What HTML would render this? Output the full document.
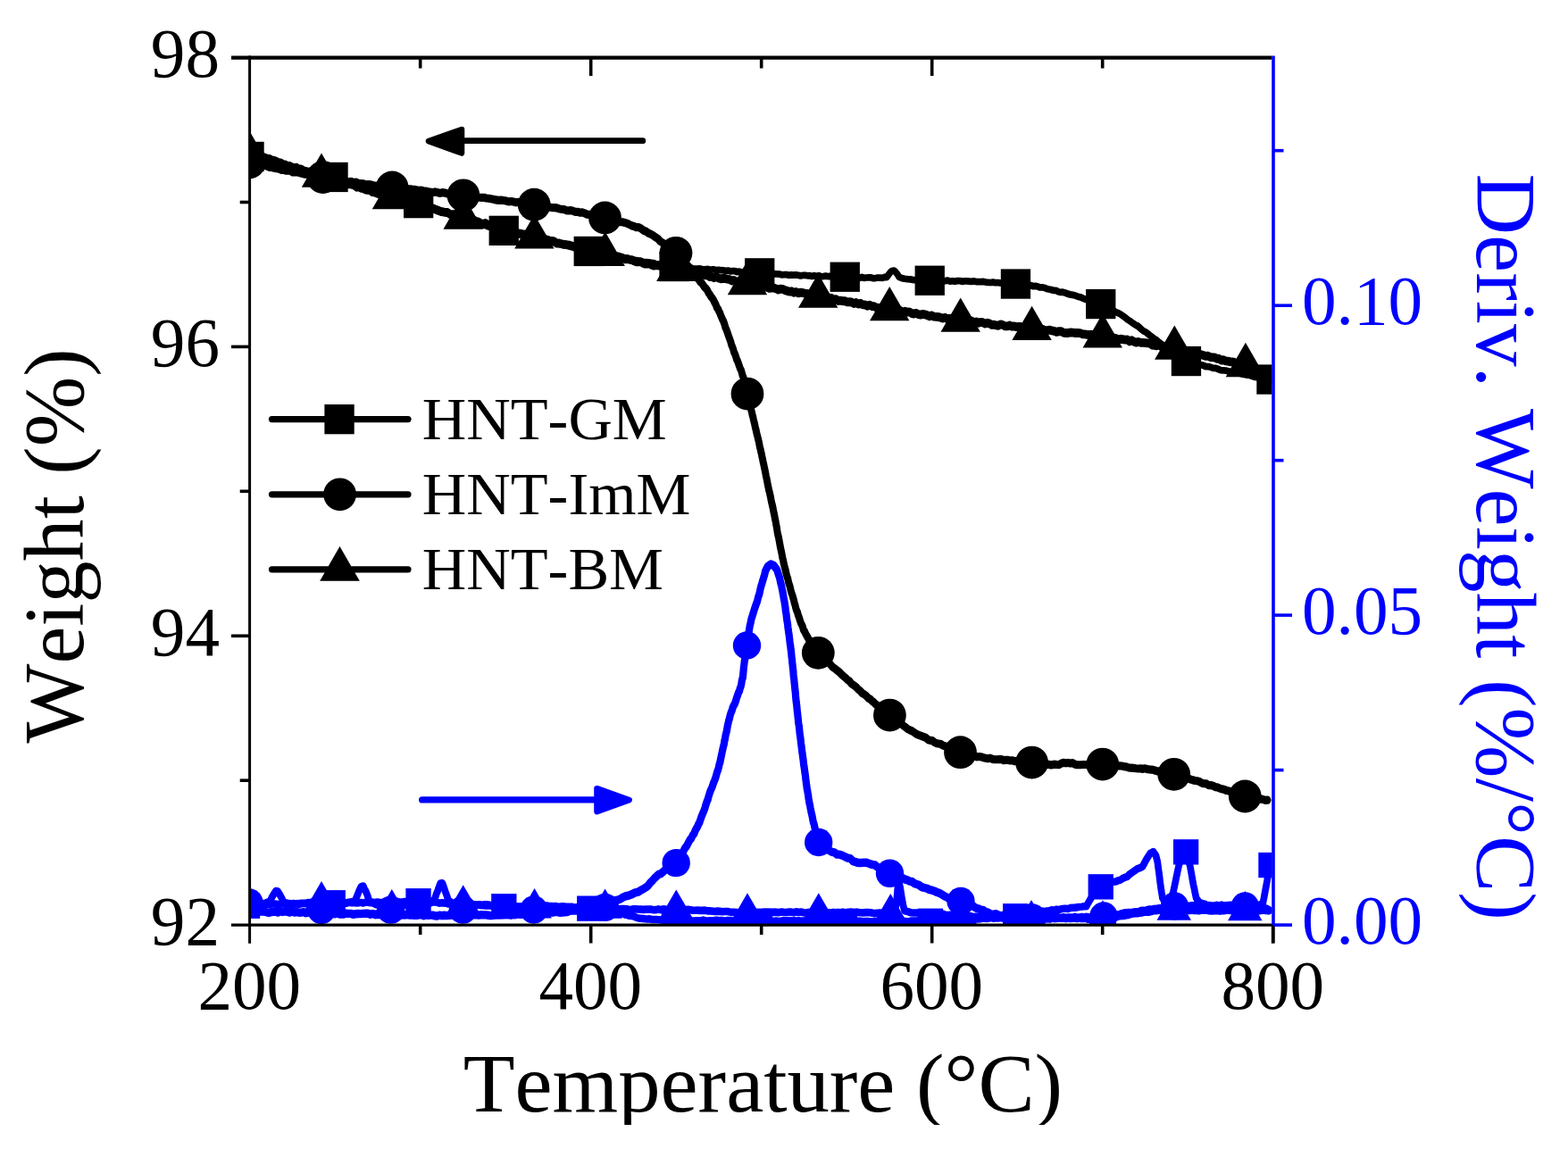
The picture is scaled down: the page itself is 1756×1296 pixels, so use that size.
<!DOCTYPE html>
<html lang="en"><head><meta charset="utf-8"><title>TGA / DTG curves</title>
<style>
html,body{margin:0;padding:0;background:#fff;}
body{width:1756px;height:1296px;overflow:hidden;}
svg{display:block;}
.t{font-family:"Liberation Serif",serif;font-kerning:none;font-feature-settings:"kern" 0,"liga" 0;}
</style></head><body>
<svg width="1756" height="1296" viewBox="0 0 1756 1296">
<defs><clipPath id="pc"><rect x="279.6" y="64" width="1144.8" height="972.2"/></clipPath></defs>
<rect x="0" y="0" width="1756" height="1296" fill="#ffffff"/>
<g clip-path="url(#pc)">
<polyline transform="scale(1,1.1)" points="279.0,921.7 281.6,921.4 284.2,921.7 286.9,921.1 289.5,921.4 292.1,921.1 294.8,920.7 297.4,921.0 300.0,920.5 302.5,920.8 305.0,920.5 307.5,920.5 310.0,920.7 312.5,921.1 315.0,920.4 317.5,920.5 320.0,920.8 322.5,921.1 325.0,920.7 327.5,920.5 330.0,921.0 332.5,920.1 335.0,920.8 337.5,920.3 340.0,920.1 342.5,920.0 345.1,920.1 347.6,920.5 350.2,919.8 352.7,920.1 355.2,920.0 357.8,919.7 360.3,919.8 362.8,919.2 365.4,919.1 367.9,919.2 370.5,919.5 373.0,919.2 375.6,919.1 378.2,919.3 380.8,919.2 383.4,919.1 386.1,919.5 388.7,919.4 391.3,919.0 393.9,919.3 396.5,919.2 399.1,919.5 401.7,919.4 404.3,919.0 406.9,919.6 409.6,918.8 412.2,919.0 414.8,919.3 417.4,918.8 420.0,919.1 422.6,918.6 425.1,919.1 427.7,919.1 430.2,918.9 432.8,919.1 435.3,918.5 437.9,918.8 440.4,918.6 443.0,918.5 445.5,918.3 448.1,918.6 450.6,918.6 453.2,918.1 455.7,918.2 458.3,917.6 460.8,918.1 463.4,918.0 465.9,918.2 468.5,918.0 471.1,917.7 473.8,918.0 476.4,918.4 479.0,918.1 481.6,918.6 484.2,918.6 486.9,918.7 489.5,918.8 492.1,919.7 494.8,919.3 497.4,919.6 500.0,919.9 502.5,920.5 505.0,919.9 507.5,920.4 510.0,920.7 512.5,921.1 515.0,921.2 517.5,921.4 520.0,921.0 522.5,921.3 525.0,921.4 527.5,922.0 530.0,922.2 532.6,921.6 535.3,921.7 537.9,921.8 540.6,921.9 543.2,922.2 545.9,922.4 548.5,922.2 551.2,922.0 553.8,922.5 556.5,922.5 559.1,922.8 561.8,923.2 564.4,923.1 566.9,922.9 569.5,923.0 572.0,923.0 574.5,922.5 577.1,923.2 579.6,923.1 582.1,923.2 584.7,923.1 587.2,922.7 589.7,922.7 592.3,922.4 594.8,922.9 597.3,922.4 599.9,922.4 602.4,922.5 604.9,922.4 607.5,922.6 610.0,922.3 612.5,922.3 615.0,922.6 617.5,922.6 620.0,922.9 622.5,922.7 625.0,923.5 627.5,923.4 630.0,923.0 632.5,923.2 635.0,923.3 637.5,923.4 640.0,923.3 642.5,924.1 645.0,924.4 647.6,924.2 650.1,924.3 652.6,924.2 655.2,924.4 657.7,924.8 660.2,924.9 662.7,925.7 665.2,925.4 667.7,925.7 670.1,926.8 672.6,926.8 675.1,926.8 677.6,927.5 680.1,927.3 682.5,928.1 685.0,928.9 687.5,929.1 690.0,929.3 692.5,929.4 695.0,930.1 697.5,930.4 700.0,931.5 702.5,931.8 705.0,932.6 707.5,932.8 710.0,933.2 712.5,934.3 715.0,935.0 717.5,935.2 720.0,935.4 722.5,935.7 725.0,935.9 727.5,935.7 730.0,936.3 732.5,936.4 735.0,936.4 737.5,936.5 740.0,936.8 742.5,936.9 745.0,937.4 747.5,937.8 750.0,937.5 752.5,938.0 755.0,938.2 757.5,938.1 760.0,937.5 762.5,937.4 765.0,937.3 767.5,937.3 770.0,937.3 772.5,937.6 775.0,937.8 777.5,937.7 780.0,937.4 782.5,937.5 785.0,937.6 787.5,936.9 790.0,937.4 792.5,937.6 795.0,937.5 797.5,937.5 800.0,937.3 802.5,937.0 805.0,937.5 807.5,937.1 810.0,937.5 812.5,937.7 815.0,937.2 817.5,937.2 820.0,937.7 822.6,937.5 825.2,937.0 827.8,937.0 830.3,937.1 832.9,937.8 835.5,937.8 838.1,937.2 840.7,937.9 843.2,938.1 845.8,937.8 848.4,937.6 851.0,937.8 853.6,937.4 856.2,937.3 858.7,938.2 861.3,937.9 863.9,937.8 866.5,938.1 869.1,937.7 871.6,938.1 874.2,938.0 876.8,937.5 879.4,937.5 881.9,937.5 884.5,937.5 887.1,937.8 889.7,937.5 892.3,937.7 894.8,937.4 897.4,938.1 900.0,937.6 902.6,937.7 905.1,937.9 907.7,938.2 910.2,937.8 912.8,938.2 915.3,937.9 917.9,937.9 920.4,938.0 923.0,937.5 925.6,937.9 928.1,937.7 930.7,937.6 933.2,938.3 935.8,937.8 938.3,938.1 940.9,938.3 943.4,938.2 946.0,938.0 948.6,938.2 951.1,938.2 953.7,938.4 956.3,937.8 958.9,938.2 961.4,938.0 964.0,938.0 966.6,938.4 969.1,938.2 971.7,938.2 974.3,938.4 976.9,938.6 979.4,938.1 982.0,938.3 984.6,938.2 987.1,938.2 989.7,938.4 992.3,938.1 994.9,938.2 997.4,938.2 1000.0,938.6 1002.6,938.3 1005.2,938.5 1007.9,938.5 1010.5,937.8 1013.1,938.1 1015.8,938.4 1018.4,938.3 1021.0,937.6 1023.6,937.6 1026.2,937.8 1028.9,937.5 1031.5,937.6 1034.1,937.4 1036.8,937.9 1039.4,938.0 1042.0,938.1 1044.5,937.3 1047.1,937.8 1049.6,937.7 1052.1,937.1 1054.6,937.7 1057.2,937.7 1059.7,937.0 1062.2,937.6 1064.7,937.0 1067.3,937.0 1069.8,937.4 1072.3,937.2 1074.8,936.5 1077.4,936.7 1079.9,936.7 1082.4,936.4 1084.9,936.2 1087.5,936.3 1090.0,936.6 1092.5,935.7 1095.0,936.0 1097.5,935.8 1100.0,935.2 1102.5,935.3 1105.0,935.4 1107.5,935.1 1110.0,934.5 1112.5,935.2 1115.0,934.8 1117.8,934.8 1120.6,933.8 1123.3,933.8 1126.1,933.4 1128.9,933.8 1131.7,933.2 1134.5,932.9 1137.2,932.9 1139.8,932.9 1142.3,932.4 1144.8,931.5 1147.4,930.9 1149.9,931.2 1152.4,930.5 1154.9,930.1 1157.5,929.2 1160.0,928.7 1162.5,929.0 1165.0,928.4 1167.5,927.8 1170.0,928.3 1172.5,927.7 1175.0,927.5 1177.7,926.6 1180.4,927.0 1183.0,926.0 1185.7,926.4 1188.4,925.7 1191.0,925.3 1193.6,925.3 1196.1,925.4 1198.7,924.6 1201.3,924.2 1203.8,924.3 1206.4,923.9 1208.9,923.5 1211.5,923.3 1214.0,923.0 1216.6,922.9 1218.0,920.6 1219.5,918.2 1220.9,916.1 1222.6,913.4 1224.3,911.4 1226.0,908.8 1228.3,907.0 1230.5,904.7 1232.8,902.9 1235.5,901.6 1238.3,901.3 1241.0,900.1 1243.8,898.7 1246.5,898.0 1249.4,897.8 1252.3,896.6 1254.8,896.0 1257.4,894.5 1260.0,893.4 1262.5,892.6 1264.6,890.6 1266.8,889.2 1268.9,887.8 1271.0,886.5 1273.9,884.6 1276.7,883.8 1279.6,882.4 1281.0,880.0 1282.5,877.4 1283.9,875.0 1286.0,872.0 1288.0,869.2 1291.6,867.3 1294.5,871.1 1295.0,873.0 1295.6,875.1 1296.2,877.3 1296.7,880.3 1297.0,882.6 1297.3,884.8 1297.6,886.7 1298.0,889.0 1298.3,891.3 1298.6,893.8 1298.9,895.8 1299.2,898.4 1299.6,900.8 1300.1,904.1 1300.5,906.7 1300.9,908.9 1301.4,911.2 1301.8,914.4 1302.9,915.9 1304.1,918.1 1305.2,919.8 1308.1,918.2 1311.0,916.3 1312.0,913.7 1313.0,910.8 1314.0,908.4 1314.6,905.3 1315.2,903.0 1315.8,900.2 1316.4,897.9 1317.0,895.0 1317.5,892.6 1318.1,890.4 1318.6,887.9 1319.1,885.8 1319.7,883.4 1320.2,881.1 1321.2,878.6 1322.1,876.1 1323.0,873.8 1324.0,870.8 1326.1,869.1 1328.2,868.1 1328.9,869.5 1329.7,872.3 1330.4,874.4 1331.1,876.1 1331.9,879.0 1332.6,881.3 1333.1,883.5 1333.6,886.1 1334.1,888.7 1334.5,890.6 1335.0,893.5 1335.5,896.0 1336.0,898.8 1336.5,901.1 1337.1,903.4 1337.6,905.5 1338.1,908.2 1338.6,910.3 1339.2,912.7 1339.7,914.6 1341.3,916.5 1343.0,918.8 1346.0,919.9 1349.0,920.5 1352.0,922.1 1354.6,922.3 1357.2,922.8 1359.8,923.3 1362.4,923.8 1365.0,924.1 1367.5,923.6 1370.0,924.2 1372.5,924.1 1375.0,923.8 1377.5,923.7 1380.0,923.8 1382.5,923.2 1385.0,923.9 1387.5,923.4 1390.0,923.2 1392.5,923.4 1395.0,923.8 1397.5,923.4 1400.0,923.9 1402.5,923.6 1405.0,922.7 1407.5,922.2 1410.0,921.8 1414.3,919.9 1414.8,917.5 1415.4,914.9 1415.9,912.4 1416.5,909.4 1417.0,907.0 1417.5,904.4 1418.0,902.1 1418.6,899.1 1419.1,896.6 1419.6,893.5 1420.4,890.9 1421.2,888.5 1421.9,886.3 1422.7,883.7 1423.5,881.1 1424.6,878.2 1425.8,875.9 1426.9,873.4 1428.0,870.9" fill="none" stroke="#0000ff" stroke-width="7.7" stroke-linejoin="round" stroke-linecap="round"/>
<rect x="262.9" y="1000.6" width="28.3" height="28.3" fill="#0000ff"/>
<rect x="358.6" y="997.1" width="28.3" height="28.3" fill="#0000ff"/>
<rect x="454.4" y="995.1" width="28.3" height="28.3" fill="#0000ff"/>
<rect x="550.2" y="1001.1" width="28.3" height="28.3" fill="#0000ff"/>
<rect x="646.1" y="1003.5" width="28.3" height="28.3" fill="#0000ff"/>
<rect x="740.9" y="1017.4" width="28.3" height="28.3" fill="#0000ff"/>
<rect x="836.9" y="1017.6" width="28.3" height="28.3" fill="#0000ff"/>
<rect x="931.9" y="1017.9" width="28.3" height="28.3" fill="#0000ff"/>
<rect x="1027.8" y="1017.6" width="28.3" height="28.3" fill="#0000ff"/>
<rect x="1123.1" y="1012.1" width="28.3" height="28.3" fill="#0000ff"/>
<rect x="1218.6" y="979.2" width="28.3" height="28.3" fill="#0000ff"/>
<rect x="1314.0" y="940.2" width="28.3" height="28.3" fill="#0000ff"/>
<rect x="1409.3" y="954.9" width="28.3" height="28.3" fill="#0000ff"/>
<polyline transform="scale(1,1.15)" points="279.0,881.3 283.0,884.0 285.7,884.3 288.3,886.4 291.0,887.5 293.6,886.7 296.1,887.7 298.7,888.5 301.2,889.0 303.8,888.3 306.2,888.0 308.8,887.9 311.2,888.7 313.8,887.7 316.5,888.2 319.2,887.7 321.9,888.2 324.6,888.7 327.3,887.8 330.0,888.7 332.5,888.4 335.0,888.9 337.5,888.8 340.0,888.4 342.5,889.3 345.0,888.9 347.5,888.4 350.0,888.5 352.5,889.2 355.0,889.2 357.5,889.1 360.0,889.0 362.5,889.3 365.0,889.3 367.5,890.1 370.0,889.1 372.5,890.1 375.0,890.2 377.5,889.4 380.0,890.4 382.5,890.2 385.0,890.4 387.5,889.7 390.0,889.9 392.8,889.9 395.6,890.7 398.3,890.2 401.1,890.0 403.9,890.1 406.7,889.9 409.4,889.7 412.1,889.8 414.8,890.7 417.5,890.0 420.2,890.8 422.9,890.0 425.6,890.1 428.3,890.4 430.8,890.0 433.3,890.3 435.8,891.1 438.3,891.0 440.8,891.0 443.3,890.8 445.8,891.2 448.3,891.3 450.9,890.9 453.6,891.2 456.2,890.5 458.9,891.4 461.5,891.1 464.1,891.6 466.8,891.5 469.4,891.2 471.9,890.9 474.4,892.0 477.0,891.1 479.5,891.5 482.0,891.4 484.5,891.4 487.0,892.0 489.5,892.3 492.2,891.4 494.9,891.9 497.6,891.5 500.4,891.8 503.1,891.6 505.8,891.3 508.5,891.3 511.0,891.4 513.5,892.2 516.0,891.7 518.5,891.3 521.0,892.2 523.5,892.3 526.0,891.6 528.5,891.2 531.1,891.2 533.8,891.1 536.4,891.4 539.0,891.0 541.6,891.2 544.2,891.2 546.9,891.5 549.5,891.9 552.0,891.6 554.5,891.2 557.0,891.1 559.5,891.2 562.0,890.9 564.5,890.8 567.0,890.4 569.5,890.6 572.2,891.3 574.9,890.2 577.6,890.5 580.4,890.5 583.1,890.7 585.8,889.8 588.5,889.7 591.0,889.6 593.5,889.7 596.0,889.6 598.5,890.1 601.0,889.9 603.5,889.8 606.0,888.7 608.5,888.6 611.1,889.3 613.8,889.4 616.4,888.8 619.0,888.8 621.6,888.0 624.2,888.3 626.9,888.9 629.5,888.7 632.3,888.5 635.1,888.4 637.9,887.3 640.7,886.9 643.5,886.8 646.2,887.0 648.8,886.8 651.2,886.8 653.8,886.2 656.2,885.7 658.8,885.5 661.9,884.7 665.0,884.3 668.1,883.1 671.2,883.4 674.4,882.1 677.6,882.0 680.9,880.7 684.2,879.0 687.5,877.6 690.1,876.8 692.6,876.4 695.2,875.5 698.0,873.8 700.9,872.8 703.7,872.4 706.3,871.6 708.8,870.5 711.4,869.4 714.8,868.8 718.2,866.9 721.0,865.6 723.8,864.1 725.9,862.5 728.1,859.9 730.4,858.1 732.8,855.6 735.3,853.5 737.8,851.6 740.1,851.1 742.3,849.4 744.6,847.5 746.7,845.9 748.8,845.3 750.9,844.3 753.0,842.8 754.7,841.0 756.5,840.0 758.2,838.7 760.0,836.3 761.3,834.1 762.7,832.5 764.1,830.6 765.5,828.9 766.9,826.3 768.3,824.9 769.8,822.8 771.2,820.4 772.7,817.9 774.2,816.6 775.8,813.6 777.3,812.1 778.5,809.2 779.8,807.0 781.0,805.5 782.3,802.7 783.3,801.3 784.3,798.6 785.3,796.1 786.3,793.9 787.3,791.8 788.3,789.7 789.3,787.6 790.3,784.2 791.1,782.4 791.9,780.1 792.7,779.0 793.5,775.9 794.3,773.7 795.3,771.1 796.3,769.0 797.3,767.1 798.3,764.6 799.3,762.0 800.3,760.0 801.4,757.5 802.4,754.3 803.2,751.8 804.0,750.3 804.8,747.6 805.6,744.4 806.3,742.7 806.9,740.0 807.5,737.6 808.1,735.1 808.7,732.6 809.3,730.1 809.8,728.2 810.4,726.0 810.9,724.5 811.4,721.3 811.9,720.2 812.4,717.1 812.9,715.0 813.5,713.4 814.0,711.2 814.5,708.5 815.1,705.8 815.6,704.1 816.2,701.7 816.8,700.2 817.7,696.7 818.6,694.3 819.6,692.3 820.7,689.0 821.8,687.1 822.9,685.4 824.0,682.7 825.2,679.2 826.3,676.6 827.1,674.5 828.0,673.3 828.8,670.3 829.6,668.8 830.2,666.6 830.7,663.6 831.3,661.2 831.9,659.8 832.2,656.9 832.5,654.1 832.7,652.2 833.0,649.3 833.4,647.0 833.7,644.5 834.0,643.2 834.3,641.1 834.8,638.1 835.3,635.9 835.8,632.1 836.2,629.9 836.6,627.8 837.0,625.9 837.5,623.5 837.8,620.5 838.2,618.1 838.6,616.0 839.0,613.8 839.3,612.0 839.9,608.9 840.4,607.5 840.9,605.3 841.4,603.2 842.5,600.2 843.6,597.1 844.7,593.9 845.8,591.0 847.0,588.1 848.1,585.7 848.8,582.6 849.6,580.4 850.3,578.9 851.1,575.6 851.8,572.8 852.6,570.2 853.3,568.4 854.1,565.7 854.8,564.0 855.6,561.6 856.3,559.5 857.1,556.3 858.5,553.8 859.9,551.5 863.2,549.6 866.6,550.8 868.2,552.7 869.9,554.6 871.0,557.3 872.0,560.1 873.0,562.7 873.6,564.9 874.1,567.2 874.7,569.1 875.2,570.6 875.8,573.6 876.3,575.4 876.8,578.1 877.3,580.3 877.8,583.2 878.3,585.0 878.7,587.3 879.1,589.6 879.5,591.7 879.8,594.9 880.2,596.8 880.6,598.7 880.9,601.2 881.3,604.2 881.7,606.0 882.1,608.0 882.4,611.1 882.8,613.2 883.2,616.1 883.5,617.4 883.9,620.3 884.3,623.2 884.6,625.6 885.0,628.2 885.3,629.5 885.6,632.3 886.0,634.5 886.3,637.0 886.6,640.4 887.0,642.3 887.2,645.2 887.5,646.9 887.8,650.0 888.1,651.9 888.4,654.1 888.6,657.1 888.9,659.8 889.2,661.2 889.5,664.2 889.8,666.7 890.0,668.6 890.3,671.2 890.6,673.4 890.9,675.9 891.1,678.4 891.4,681.3 891.7,683.7 892.0,685.6 892.3,687.8 892.6,690.6 892.9,693.4 893.2,695.2 893.5,697.8 893.8,700.1 894.1,703.2 894.4,705.2 894.8,707.0 895.1,709.5 895.4,712.2 895.7,714.8 896.1,717.1 896.4,718.8 896.7,721.1 897.0,724.0 897.4,726.0 897.7,728.1 898.0,730.3 898.4,733.3 898.7,734.7 899.0,737.2 899.4,739.1 899.7,741.4 900.0,744.1 900.4,746.4 900.7,747.8 901.0,749.8 901.4,752.6 901.7,754.2 902.0,756.1 902.4,759.4 902.7,761.0 903.0,763.7 903.4,765.3 903.7,768.1 904.2,770.0 904.6,772.1 905.1,774.4 905.5,777.5 906.0,780.0 906.5,782.6 907.0,783.9 907.5,786.8 908.0,788.8 908.5,791.2 909.1,793.1 909.7,795.6 910.2,798.2 910.9,801.0 911.5,802.3 912.2,805.1 912.9,807.8 913.6,810.4 914.2,811.8 915.0,814.1 916.4,817.2 917.8,819.4 919.3,820.9 920.7,822.5 922.7,824.9 924.8,825.5 926.8,827.4 928.8,828.4 931.6,829.9 934.5,830.3 937.3,832.3 940.3,832.3 943.4,833.3 946.4,834.6 949.4,835.7 952.4,836.2 955.4,838.9 958.4,839.7 961.4,840.5 964.4,840.4 967.5,840.1 970.5,840.2 974.0,841.4 977.5,842.3 980.0,842.6 982.5,844.5 985.2,846.0 987.9,846.4 990.8,848.5 993.6,848.9 996.2,850.4 998.8,851.3 1001.4,852.4 1003.9,852.8 1006.4,853.8 1008.8,854.8 1011.3,855.5 1013.8,856.7 1016.3,857.3 1018.8,858.3 1021.3,858.7 1023.9,860.4 1026.5,861.3 1029.0,862.0 1031.6,863.7 1033.9,864.5 1036.3,865.0 1038.6,865.5 1041.0,866.7 1043.8,867.1 1046.7,868.0 1049.5,869.2 1052.7,870.1 1055.9,871.8 1058.0,873.1 1060.2,873.8 1062.9,875.5 1065.7,875.7 1069.2,877.0 1072.6,877.6 1075.5,878.1 1078.3,878.3 1081.2,879.7 1083.8,880.4 1086.5,882.1 1089.1,882.0 1091.7,883.8 1094.0,884.8 1096.4,885.3 1098.7,886.3 1101.1,886.4 1103.9,888.3 1106.6,888.8 1109.4,890.3 1112.4,890.7 1115.3,890.2 1118.3,891.4 1121.2,892.0 1124.2,891.4 1126.8,891.9 1129.5,892.6 1132.1,892.0 1134.8,893.1 1137.5,892.5 1140.1,893.3 1142.8,892.7 1145.4,893.3 1148.1,893.9 1150.8,893.1 1153.5,893.2 1156.2,893.6 1158.9,893.4 1161.6,893.2 1164.3,893.4 1167.0,893.5 1169.8,894.4 1172.5,894.1 1175.2,894.4 1178.0,893.5 1180.8,894.3 1183.5,893.4 1186.2,894.0 1189.0,894.1 1191.5,893.7 1194.0,894.3 1196.5,893.9 1199.0,893.9 1201.5,894.2 1204.0,893.3 1206.5,894.3 1209.0,893.9 1211.6,893.5 1214.1,893.9 1216.7,893.2 1219.3,894.0 1221.9,893.5 1224.4,893.2 1227.0,893.6 1229.5,893.0 1232.0,892.5 1234.5,893.0 1237.0,892.0 1239.5,892.7 1242.0,891.8 1244.5,892.1 1247.3,892.2 1250.2,891.3 1253.0,891.1 1255.8,890.3 1258.7,889.5 1261.5,889.2 1264.2,889.0 1266.8,889.3 1269.5,888.7 1272.2,888.5 1274.8,888.6 1277.5,887.4 1280.0,887.2 1282.5,887.4 1285.0,886.4 1287.5,886.1 1290.0,886.2 1292.5,885.6 1295.3,885.5 1298.2,885.0 1301.0,885.0 1303.9,884.7 1306.5,883.8 1309.0,883.8 1311.6,883.2 1314.2,882.7 1316.8,883.5 1319.4,882.5 1322.0,882.2 1324.6,882.0 1327.2,882.6 1329.8,882.9 1332.4,882.8 1335.1,882.3 1337.7,882.1 1340.3,881.7 1342.9,882.5 1345.7,882.4 1348.5,882.1 1351.3,882.5 1354.1,882.2 1356.9,882.8 1359.8,882.6 1362.6,882.0 1365.2,882.8 1367.9,881.8 1370.5,882.4 1373.2,882.3 1375.8,882.1 1378.4,881.9 1381.1,882.8 1383.7,881.9 1386.6,882.7 1389.5,883.4 1392.3,882.6 1395.2,882.8 1398.1,883.4 1401.0,883.5 1403.6,884.0 1406.3,884.6 1409.0,884.1 1411.7,884.6 1414.3,885.0 1417.7,885.1 1421.0,886.6" fill="none" stroke="#0000ff" stroke-width="8.2" stroke-linejoin="round" stroke-linecap="round"/>
<circle cx="279.0" cy="1011.0" r="15.7" fill="#0000ff"/>
<circle cx="360.0" cy="1019.5" r="15.7" fill="#0000ff"/>
<circle cx="437.7" cy="1019.1" r="15.7" fill="#0000ff"/>
<circle cx="518.4" cy="1019.1" r="15.7" fill="#0000ff"/>
<circle cx="597.8" cy="1019.0" r="15.7" fill="#0000ff"/>
<circle cx="677.5" cy="1016.4" r="15.7" fill="#0000ff"/>
<circle cx="757.2" cy="966.6" r="15.7" fill="#0000ff"/>
<circle cx="836.5" cy="723.0" r="15.7" fill="#0000ff"/>
<circle cx="916.7" cy="943.5" r="15.7" fill="#0000ff"/>
<circle cx="996.5" cy="978.3" r="15.7" fill="#0000ff"/>
<circle cx="1076.0" cy="1009.5" r="15.7" fill="#0000ff"/>
<circle cx="1156.0" cy="1028.0" r="15.7" fill="#0000ff"/>
<circle cx="1236.0" cy="1026.0" r="15.7" fill="#0000ff"/>
<circle cx="1315.5" cy="1015.0" r="15.7" fill="#0000ff"/>
<circle cx="1394.3" cy="1015.0" r="15.7" fill="#0000ff"/>
<polyline transform="scale(1,1.12)" points="279.0,903.8 281.8,903.8 284.6,903.1 287.4,903.9 290.2,903.8 293.1,903.5 295.9,903.8 299.2,902.6 302.5,901.4 304.5,897.5 306.6,894.3 308.9,891.2 311.1,891.5 313.4,894.8 315.5,898.2 317.5,902.3 320.7,903.1 323.9,903.7 326.6,903.9 329.2,903.7 331.9,904.0 334.6,903.7 337.2,903.3 339.8,903.4 342.4,903.5 345.0,902.7 347.5,903.0 350.0,901.9 352.5,901.8 355.0,901.5 357.8,901.9 360.6,902.1 363.5,901.9 366.3,901.5 369.1,902.0 371.7,901.7 374.3,901.8 376.9,902.6 379.6,902.5 382.2,902.8 384.8,902.9 387.4,903.4 389.9,902.4 392.5,902.3 395.1,901.7 397.6,901.3 398.8,898.4 399.9,896.1 401.0,893.5 402.2,890.9 403.4,888.6 404.5,886.7 406.9,886.2 408.1,889.2 409.3,890.8 410.5,893.2 411.6,895.7 412.8,899.3 413.9,901.5 416.2,902.4 418.6,903.4 420.9,904.5 423.9,905.3 426.9,905.5 429.9,905.8 432.9,906.0 435.6,905.4 438.4,905.8 441.1,905.5 443.9,905.9 446.6,905.9 449.2,905.7 451.8,904.7 454.4,905.2 457.0,905.1 459.6,904.9 462.2,903.9 465.1,903.8 468.0,903.4 471.0,903.2 473.9,903.7 476.5,903.5 479.0,903.2 481.6,903.2 484.1,901.5 486.6,899.6 487.8,896.5 488.9,893.6 490.0,891.5 491.1,888.4 492.1,886.0 493.2,883.6 495.4,883.3 496.5,885.9 497.5,888.4 498.6,891.5 499.7,894.0 500.8,896.9 501.9,900.5 504.4,901.8 506.9,903.9 509.5,903.9 512.2,903.7 514.8,904.3 517.6,904.5 520.5,904.9 523.3,904.6 526.2,905.0 529.0,905.0 531.6,904.7 534.2,905.3 536.8,904.7 539.4,905.4 541.9,904.8 544.5,904.7 547.1,904.9 549.7,905.5 552.5,905.8 555.4,905.0 558.2,905.6 561.1,905.7 563.9,906.1 566.8,905.7 569.6,906.1 572.4,906.2 575.2,906.8 577.9,906.5 580.7,907.3 583.4,907.0 586.2,907.1 589.0,907.7 591.5,907.6 594.0,907.3 596.5,907.9 599.0,907.4 601.5,908.1 604.0,908.1 606.5,908.2 609.0,908.1 611.5,907.8 614.1,907.8 616.7,907.7 619.3,908.1 621.9,907.3 624.5,907.9 627.1,907.1 629.6,907.2 632.5,907.2 635.3,907.8 638.1,907.5 640.9,907.4 643.8,907.8 646.6,907.3 649.4,907.5 652.1,907.7 654.8,908.0 657.5,908.1 660.1,908.1 662.8,907.9 665.5,908.0 668.2,908.0 670.7,908.7 673.2,908.6 675.7,908.7 678.2,908.3 680.7,908.6 683.2,909.0 685.7,908.9 688.2,908.6 690.9,909.0 693.5,909.4 696.1,908.9 698.8,909.0 701.5,909.1 704.1,909.6 706.8,909.8 709.4,909.2 712.2,909.3 715.1,909.4 717.9,909.5 720.8,909.7 723.6,909.4 726.5,909.5 729.3,909.5 732.0,910.1 734.7,909.9 737.3,909.3 740.0,910.0 742.6,909.2 745.3,909.5 748.0,910.0 750.5,909.9 753.0,909.8 755.5,909.6 758.0,909.4 760.5,909.9 763.0,909.5 765.5,909.6 768.0,909.8 770.6,909.6 773.3,910.0 776.0,910.5 778.6,910.5 781.3,910.4 784.0,910.6 786.7,910.6 789.3,910.4 792.2,911.0 795.0,910.9 797.9,911.3 800.7,911.6 803.6,911.3 806.4,911.5 809.2,911.8 811.9,911.6 814.5,911.6 817.2,912.1 819.8,912.4 822.5,912.4 825.1,912.5 827.8,912.7 830.2,912.6 832.8,912.6 835.2,912.5 837.8,912.4 840.2,912.7 842.8,912.2 845.2,912.6 847.8,912.9 850.4,912.8 853.1,912.7 855.8,912.3 858.5,912.4 861.2,912.4 863.9,912.5 866.6,912.2 869.2,912.4 872.1,912.6 875.0,912.0 877.8,912.4 880.6,912.5 883.5,912.2 886.4,912.2 889.2,912.7 891.8,911.9 894.5,912.4 897.1,912.1 899.7,912.7 902.3,912.9 905.0,912.6 907.6,912.3 910.1,912.7 912.6,912.7 915.1,912.9 917.6,912.7 920.1,912.9 922.6,913.0 925.1,912.8 927.6,912.7 930.3,913.1 933.0,912.5 935.7,912.9 938.4,912.6 941.1,912.9 943.8,912.3 946.5,913.0 949.2,912.5 951.7,912.2 954.2,912.4 956.7,912.6 959.3,912.2 961.8,912.6 964.3,912.7 966.8,912.9 969.3,912.6 972.0,912.6 974.7,912.7 977.3,913.2 980.0,913.5 982.6,913.2 985.3,913.0 988.0,913.6 990.5,913.3 993.0,913.2 995.6,913.1 998.1,913.8 999.7,913.7 1001.3,911.7 1003.0,908.0 1003.5,905.5 1004.0,902.7 1004.2,901.1 1004.4,898.3 1004.5,896.3 1004.8,894.3 1005.0,892.0 1005.2,889.5 1005.5,887.1 1005.8,885.1 1006.1,882.5 1007.1,883.1 1007.5,884.9 1008.0,887.6 1008.4,889.3 1008.8,891.6 1009.2,893.8 1009.6,896.1 1010.0,898.2 1010.5,900.2 1010.9,903.1 1011.4,905.2 1012.0,907.6 1013.0,910.8 1016.6,911.8 1020.1,912.7 1022.8,912.9 1025.4,913.0 1028.1,912.9 1030.7,913.5 1033.4,913.5 1036.0,912.9 1038.6,913.8 1041.2,914.0 1043.8,914.0 1046.4,913.6 1049.0,914.4 1051.6,914.4 1054.1,914.0 1056.7,914.2 1059.3,915.2 1061.9,915.2 1064.4,915.0 1067.0,915.0 1069.5,915.2 1072.0,915.4 1074.5,916.1 1077.0,915.8 1079.5,915.8 1082.0,916.6 1084.5,916.6 1087.0,916.2 1089.8,917.0 1092.5,916.8 1095.2,917.1 1098.0,917.1 1100.8,917.4 1103.5,917.4 1106.2,917.6 1109.0,917.1 1111.8,917.7 1114.6,917.7 1117.5,918.0 1120.3,917.9 1123.1,918.4 1125.9,918.2 1128.8,918.1 1131.2,918.2 1133.8,918.2 1136.2,918.7 1138.8,918.4 1141.2,918.9 1143.8,918.8 1146.2,919.2 1148.8,919.2 1151.2,919.2 1153.8,919.5 1156.2,918.8 1158.8,919.5 1161.2,919.2 1163.8,919.3 1166.2,919.3 1168.8,919.4 1171.2,918.9 1173.8,918.8 1176.2,919.2 1178.8,918.3 1181.2,918.7 1183.8,918.6 1186.2,918.0 1188.8,918.4 1191.2,918.5 1193.8,918.7 1196.2,918.2 1198.8,918.8 1201.2,918.4 1203.8,918.4 1206.2,918.8 1208.8,918.0 1211.2,918.8 1213.8,918.8 1216.2,918.7 1218.8,919.4 1221.2,919.1 1223.8,919.3 1226.2,919.6 1228.8,919.7 1231.2,919.0 1233.8,919.1 1236.2,919.0 1238.8,919.0 1241.2,919.2 1243.8,918.2 1246.2,918.2 1248.8,917.3 1251.2,916.9 1253.8,916.2 1256.2,916.0 1258.8,916.0 1261.2,915.4 1263.8,915.1 1266.2,914.3 1268.8,913.9 1271.2,913.6 1273.8,913.5 1276.2,913.2 1278.8,913.0 1281.2,912.1 1283.8,912.3 1286.2,912.2 1289.0,911.6 1291.7,910.9 1294.5,910.9 1297.2,910.4 1300.0,910.3 1303.2,910.9 1306.5,910.6 1309.8,910.6 1312.7,910.7 1315.5,910.8 1318.4,910.5 1321.2,910.6 1324.1,910.6 1326.8,910.6 1329.4,910.6 1332.1,910.7 1334.7,910.3 1337.4,910.7 1340.0,910.6 1342.7,910.9 1345.5,910.3 1348.4,910.4 1351.2,910.2 1354.1,910.9 1356.9,911.1 1359.7,910.8 1362.6,910.6 1365.2,911.0 1367.9,911.0 1370.5,910.8 1373.2,910.5 1375.8,910.5 1378.4,910.6 1381.1,910.6 1383.7,910.7 1386.6,910.8 1389.5,911.1 1392.3,910.3 1395.2,910.8 1398.1,910.3 1401.0,910.4 1403.6,911.0 1406.3,910.8 1409.0,911.1 1411.7,910.7 1414.3,910.3 1417.7,910.6 1421.0,910.8" fill="none" stroke="#0000ff" stroke-width="7.7" stroke-linejoin="round" stroke-linecap="round"/>
<polygon points="279.0,992.5 259.8,1025.8 298.2,1025.8" fill="#0000ff"/>
<polygon points="360.0,987.0 340.8,1020.3 379.2,1020.3" fill="#0000ff"/>
<polygon points="438.8,996.0 419.6,1029.3 458.1,1029.3" fill="#0000ff"/>
<polygon points="518.7,991.2 499.5,1024.5 538.0,1024.5" fill="#0000ff"/>
<polygon points="598.6,995.1 579.4,1028.4 617.9,1028.4" fill="#0000ff"/>
<polygon points="677.6,995.5 658.4,1028.8 696.9,1028.8" fill="#0000ff"/>
<polygon points="757.3,996.4 738.0,1029.7 776.5,1029.7" fill="#0000ff"/>
<polygon points="837.0,1000.2 817.8,1033.5 856.2,1033.5" fill="#0000ff"/>
<polygon points="916.8,1000.2 897.5,1033.5 936.0,1033.5" fill="#0000ff"/>
<polygon points="997.3,1001.0 978.0,1034.3 1016.5,1034.3" fill="#0000ff"/>
<polygon points="1076.0,1004.0 1056.8,1037.3 1095.2,1037.3" fill="#0000ff"/>
<polygon points="1155.0,1007.9 1135.8,1041.2 1174.2,1041.2" fill="#0000ff"/>
<polygon points="1235.0,1008.3 1215.8,1041.6 1254.2,1041.6" fill="#0000ff"/>
<polygon points="1314.8,997.4 1295.5,1030.7 1334.0,1030.7" fill="#0000ff"/>
<polygon points="1394.3,997.9 1375.0,1031.2 1413.5,1031.2" fill="#0000ff"/>
</g>
<line x1="472.6" y1="895.9" x2="670" y2="895.9" stroke="#0000ff" stroke-width="7.2" stroke-linecap="round"/>
<polygon points="668.5,883.2 704.6,896.1 668.5,909.1" fill="#0000ff" stroke="#0000ff" stroke-width="6.6" stroke-linejoin="round"/>
<g clip-path="url(#pc)">
<polyline transform="scale(1,1.06)" points="279.0,166.5 281.6,167.2 284.2,167.4 286.9,168.1 289.5,168.5 292.1,169.7 294.8,170.0 297.3,170.6 299.9,171.1 302.4,171.7 304.9,172.9 307.5,173.0 310.0,174.3 312.5,174.1 315.0,175.3 317.5,175.2 320.0,175.6 322.5,176.9 325.1,177.0 327.7,178.0 330.3,178.0 332.9,178.5 335.5,179.7 338.1,180.2 340.8,180.9 343.4,181.3 346.1,181.3 348.8,182.3 351.5,183.0 354.2,183.3 356.9,184.3 359.6,184.2 362.2,185.5 364.8,185.9 367.4,185.8 370.0,186.5 372.5,187.7 375.1,188.5 377.7,188.5 380.2,189.3 382.7,190.5 385.1,190.7 387.5,192.1 389.9,192.5 392.3,192.8 394.8,193.9 397.1,194.8 399.5,195.3 401.9,196.3 404.3,196.5 406.7,197.8 409.1,198.1 411.5,199.1 414.2,199.8 416.9,200.4 419.6,201.2 422.4,202.3 425.1,203.2 427.8,203.9 430.5,204.4 433.3,204.9 436.1,205.5 438.8,207.1 441.6,207.7 444.4,208.5 447.1,208.9 450.0,209.9 452.9,211.0 455.7,211.6 458.6,212.2 461.5,212.7 464.0,213.5 466.5,214.7 469.0,214.9 471.5,216.0 474.0,216.6 476.5,217.6 479.1,218.3 481.7,218.7 484.3,219.2 486.9,220.3 489.5,221.2 492.1,222.2 494.7,223.2 497.3,224.1 499.8,224.2 502.4,225.8 504.9,226.6 507.5,227.5 510.0,228.1 512.5,228.6 515.0,230.0 517.5,230.9 520.0,231.6 522.5,232.7 525.2,233.0 527.9,233.5 530.5,234.8 533.2,235.8 535.9,236.0 538.6,237.3 541.0,238.1 543.5,238.1 545.9,239.1 548.4,239.8 550.8,240.2 553.3,240.6 555.7,241.3 558.2,242.3 560.7,243.0 563.2,243.3 565.7,243.5 568.2,244.8 570.7,245.4 573.2,245.5 575.8,246.4 578.3,247.3 580.9,247.9 583.4,248.1 586.0,248.6 588.5,249.3 591.1,249.5 593.8,250.2 596.6,250.8 599.3,251.9 602.0,252.2 604.8,253.0 607.5,253.4 610.0,254.1 612.5,254.3 615.0,254.8 617.5,256.2 620.0,256.2 622.5,256.5 625.0,257.5 627.4,258.2 629.9,258.2 632.4,259.2 634.8,259.5 637.3,260.3 639.7,260.4 642.2,261.0 644.6,262.4 647.0,262.9 649.5,263.1 651.9,263.8 654.4,264.1 656.9,265.1 659.4,265.3 661.9,266.3 664.4,266.7 666.9,267.3 669.5,268.0 672.0,267.8 674.6,268.1 677.2,268.8 679.7,269.3 682.3,269.7 684.8,270.2 687.4,271.1 689.9,271.9 692.4,271.9 695.0,272.8 697.5,273.3 700.0,272.9 702.5,273.8 705.0,274.0 707.5,274.1 710.0,275.3 712.5,275.0 715.3,275.7 718.1,276.2 720.9,277.0 723.7,277.1 726.5,277.3 729.2,277.8 731.9,277.9 734.5,279.1 737.2,279.5 739.8,279.2 742.5,279.4 745.1,280.0 747.8,280.5 750.2,281.3 752.8,281.6 755.2,281.8 757.8,281.4 760.2,282.3 762.8,282.5 765.2,282.8 767.8,283.4 770.4,282.7 773.1,283.0 775.8,283.8 778.5,284.1 781.2,284.1 783.9,283.9 786.6,284.4 789.2,284.8 791.9,284.4 794.5,284.7 797.1,284.9 799.7,284.9 802.3,285.4 804.9,285.3 807.5,285.6 810.1,285.7 812.7,286.3 815.2,285.9 817.8,286.7 820.3,286.4 822.9,286.4 825.4,287.4 827.9,286.9 830.5,287.7 833.0,287.8 835.6,288.0 838.1,287.4 840.6,287.9 843.1,287.7 845.6,288.7 848.1,288.8 850.6,288.7 853.1,288.7 855.6,288.8 858.1,289.4 861.0,289.3 863.9,289.6 866.9,289.3 869.8,289.6 872.7,289.7 875.4,290.4 878.0,290.3 880.6,290.1 883.3,290.9 886.0,290.4 888.6,290.7 891.2,290.5 893.9,290.8 896.5,291.4 899.1,291.0 901.6,290.9 904.2,291.3 906.7,291.2 909.3,291.9 911.8,291.2 914.4,292.1 916.9,291.3 919.5,292.2 922.0,292.0 924.6,291.7 927.1,292.0 929.7,291.9 932.2,292.0 934.7,292.0 937.3,292.3 939.8,292.9 942.4,293.0 944.9,293.0 947.5,292.3 950.0,292.6 952.6,293.3 955.1,292.6 957.7,293.3 960.2,293.0 962.7,293.7 965.3,292.9 967.8,293.7 970.4,293.4 972.9,293.3 975.5,293.3 978.0,294.1 980.5,293.9 983.1,293.4 985.6,293.5 988.1,293.7 990.6,292.9 993.1,293.0 995.4,289.8 997.4,287.4 999.3,286.1 1001.2,286.0 1003.0,287.4 1005.0,289.8 1007.0,292.9 1010.1,294.0 1013.2,294.6 1016.3,295.0 1019.1,295.1 1021.9,295.6 1024.7,295.8 1027.4,296.0 1030.2,296.0 1033.0,295.7 1035.5,295.7 1038.1,296.4 1040.6,296.2 1043.2,296.5 1045.8,296.0 1048.3,296.8 1050.9,296.4 1053.4,297.0 1056.0,297.1 1058.6,296.8 1061.3,296.4 1064.0,297.3 1066.6,296.9 1069.3,297.4 1072.0,296.8 1074.7,296.8 1077.3,297.5 1080.0,297.1 1082.7,297.0 1085.3,297.2 1088.0,297.5 1090.7,297.1 1093.3,297.7 1096.0,297.7 1098.7,297.8 1101.4,297.6 1104.0,298.2 1106.7,298.4 1109.4,298.6 1112.1,298.2 1114.7,298.8 1117.4,298.6 1120.1,299.1 1122.8,298.7 1125.4,299.6 1128.1,299.8 1130.6,299.6 1133.1,299.8 1135.6,300.0 1138.1,300.2 1140.6,299.9 1143.1,301.0 1145.9,300.6 1148.8,300.9 1151.6,301.1 1154.4,301.5 1156.8,302.5 1159.3,302.2 1161.8,302.6 1164.3,303.6 1166.8,303.6 1169.5,304.0 1172.2,305.1 1174.8,305.7 1177.5,306.2 1180.2,307.0 1182.8,307.0 1185.2,308.3 1187.8,308.8 1190.2,308.7 1192.8,309.4 1195.6,310.5 1198.5,311.2 1201.4,311.7 1204.2,312.3 1207.1,313.4 1210.0,314.0 1212.8,315.2 1215.7,316.3 1218.5,316.5 1221.4,317.8 1224.2,318.8 1227.1,319.1 1229.6,320.7 1232.1,321.8 1234.6,322.2 1237.1,323.2 1240.0,324.9 1242.8,325.9 1245.7,327.1 1248.0,329.0 1250.4,330.1 1252.8,331.0 1255.1,332.2 1257.7,333.9 1260.2,335.6 1262.8,337.7 1265.3,339.2 1267.5,340.7 1269.7,342.1 1271.8,343.6 1274.0,344.3 1276.2,346.2 1278.5,348.3 1280.8,349.9 1283.2,350.9 1285.5,352.7 1287.8,354.5 1290.3,356.1 1292.8,358.0 1295.2,359.4 1297.7,361.5 1299.8,363.1 1301.8,364.2 1303.8,365.8 1305.9,368.1 1308.1,369.4 1310.2,371.0 1312.4,372.1 1314.6,373.8 1316.9,375.2 1319.2,376.5 1321.5,377.1 1323.8,379.0 1326.4,379.6 1328.9,380.9 1331.5,381.5 1334.1,382.7 1336.7,384.0 1339.4,384.4 1342.2,384.7 1344.9,385.6 1347.7,386.2 1350.4,387.4 1353.2,387.4 1355.9,388.0 1358.7,389.0 1361.5,389.1 1364.3,390.1 1367.0,391.1 1369.8,391.3 1372.6,391.6 1375.4,392.3 1378.2,393.0 1381.0,393.1 1383.8,393.7 1386.6,394.2 1389.3,394.9 1392.0,395.5 1394.7,395.9 1397.4,396.4 1400.1,396.7 1402.8,397.7 1405.3,398.4 1407.9,398.7 1410.5,399.1 1413.1,399.7 1415.7,399.7 1418.2,400.7 1420.8,400.9 1423.4,401.5 1426.0,402.0" fill="none" stroke="#000000" stroke-width="7.3" stroke-linejoin="round" stroke-linecap="round"/>
<rect x="262.4" y="158.8" width="33.3" height="33.3" fill="#000000"/>
<rect x="356.4" y="181.8" width="33.3" height="33.3" fill="#000000"/>
<rect x="452.0" y="211.0" width="33.3" height="33.3" fill="#000000"/>
<rect x="547.6" y="241.7" width="33.3" height="33.3" fill="#000000"/>
<rect x="642.6" y="264.8" width="33.3" height="33.3" fill="#000000"/>
<rect x="738.4" y="281.9" width="33.3" height="33.3" fill="#000000"/>
<rect x="834.1" y="289.2" width="33.3" height="33.3" fill="#000000"/>
<rect x="929.6" y="293.6" width="33.3" height="33.3" fill="#000000"/>
<rect x="1024.6" y="297.6" width="33.3" height="33.3" fill="#000000"/>
<rect x="1120.8" y="301.4" width="33.3" height="33.3" fill="#000000"/>
<rect x="1216.1" y="323.9" width="33.3" height="33.3" fill="#000000"/>
<rect x="1311.8" y="387.9" width="33.3" height="33.3" fill="#000000"/>
<rect x="1407.3" y="408.4" width="33.3" height="33.3" fill="#000000"/>
<polyline transform="scale(1,1.15)" points="279.0,158.2 281.6,158.6 284.1,159.0 286.7,159.4 289.2,160.2 291.8,160.6 294.4,161.3 296.9,161.2 299.5,162.0 302.1,163.0 304.6,162.9 307.2,163.7 309.8,164.1 312.3,164.4 314.9,165.5 317.5,165.3 320.1,166.2 322.7,166.0 325.3,166.4 327.8,167.7 330.4,167.7 333.0,167.7 335.6,168.4 338.2,168.9 340.9,169.6 343.5,169.4 346.1,169.9 348.7,171.1 351.3,171.3 353.8,171.1 356.3,171.6 358.8,172.0 361.3,172.7 363.8,173.1 366.3,173.7 368.8,174.0 371.3,174.1 374.0,174.7 376.7,175.1 379.5,175.6 382.2,175.7 385.0,176.4 387.7,176.7 390.4,177.3 393.2,176.8 396.0,178.0 398.7,177.4 401.5,178.6 404.3,178.7 407.0,179.0 409.8,179.8 412.6,179.7 415.4,179.9 418.2,180.6 421.0,181.0 423.8,181.0 426.6,181.1 429.4,181.5 431.9,181.7 434.4,182.3 436.9,182.1 439.4,182.4 441.9,182.9 444.4,183.0 446.9,183.1 449.4,183.9 451.9,184.2 454.5,184.1 457.1,184.3 459.6,184.2 462.1,184.6 464.7,184.7 467.2,185.4 469.8,185.6 472.3,185.4 474.8,186.5 477.3,186.1 479.8,186.9 482.3,187.1 484.7,187.5 487.2,186.9 489.7,187.4 492.5,188.2 495.3,187.5 498.1,187.8 500.8,188.6 503.6,188.8 506.4,189.5 509.2,189.6 511.7,189.6 514.2,190.4 516.7,190.1 519.2,190.4 521.7,190.8 524.2,190.8 526.7,191.0 529.2,191.5 531.7,191.5 534.3,192.4 536.9,192.4 539.5,192.5 542.0,192.4 544.6,193.0 547.2,193.3 549.7,193.7 552.6,194.1 555.4,194.7 558.2,195.1 561.1,194.9 563.9,195.2 566.7,195.7 569.5,196.4 572.3,196.1 575.0,196.6 577.7,197.2 580.5,196.9 583.2,197.3 585.9,198.4 588.7,198.5 591.2,198.5 593.7,198.4 596.2,199.6 598.7,199.7 601.2,200.1 603.7,200.6 606.2,200.9 608.7,200.7 611.3,200.8 613.9,201.3 616.5,201.9 619.1,202.3 621.7,202.3 624.3,202.7 626.9,203.5 629.5,203.8 632.0,204.0 634.5,205.1 637.0,205.1 639.5,204.9 641.9,205.6 644.4,206.4 646.9,206.3 649.4,207.1 652.1,206.9 654.7,207.7 657.4,208.8 660.1,209.0 662.8,209.6 665.4,209.6 668.1,210.4 670.7,211.0 673.2,211.2 675.7,212.1 678.3,212.5 680.8,213.5 683.3,213.6 685.9,214.0 688.6,214.3 691.4,215.0 694.2,216.3 697.0,216.3 699.8,216.9 702.5,217.7 705.1,218.8 707.6,219.9 710.1,220.4 712.6,221.4 715.1,221.4 718.0,222.6 720.8,224.6 723.6,225.4 726.1,227.1 728.5,227.9 730.9,229.0 733.9,230.9 736.9,232.6 739.3,235.0 741.8,236.3 744.2,237.6 746.3,239.1 748.5,240.5 750.6,241.6 752.7,243.9 755.0,245.2 757.2,247.3 759.5,248.4 762.0,250.7 764.5,252.4 766.5,254.2 768.4,257.0 770.4,258.9 772.0,260.2 773.7,262.7 775.4,264.5 777.0,265.9 778.9,268.2 780.7,270.6 782.5,272.2 784.3,274.7 785.9,275.7 787.4,277.6 789.0,279.7 790.5,280.9 792.1,282.7 793.5,285.3 794.9,286.8 796.3,289.1 797.7,290.4 799.1,292.3 800.3,294.6 801.6,296.6 802.8,299.6 804.1,301.0 805.3,303.4 806.3,305.0 807.3,307.5 808.3,309.4 809.3,311.4 810.3,313.1 811.3,315.6 812.3,318.8 813.3,320.7 814.3,323.0 815.2,325.4 816.2,327.9 817.2,330.3 818.2,332.6 819.1,335.6 820.1,337.7 821.1,340.0 822.0,343.0 823.0,344.7 824.0,347.2 825.0,350.1 826.0,351.6 827.0,354.1 828.0,356.7 828.9,358.9 829.9,360.4 830.7,362.9 831.5,365.5 832.4,367.4 833.2,370.2 833.8,371.7 834.5,374.8 835.1,376.7 835.7,378.7 836.4,381.3 837.1,383.4 837.7,386.5 838.4,388.4 839.1,391.5 839.7,393.4 840.3,395.3 840.9,397.3 841.4,399.8 842.0,401.6 842.6,404.4 843.2,405.8 843.8,408.5 844.5,410.9 845.1,412.9 845.7,415.7 846.3,417.6 847.0,420.2 847.6,422.7 848.3,424.9 849.0,427.5 849.7,429.8 850.3,432.4 850.9,435.5 851.6,437.4 852.2,440.2 852.8,442.0 853.4,444.9 854.0,447.1 854.5,449.5 855.1,451.6 855.6,453.7 856.2,456.3 856.8,458.6 857.3,460.8 857.9,463.8 858.4,465.6 859.0,468.1 859.6,471.0 860.1,473.2 860.7,475.6 861.2,477.9 861.8,479.5 862.4,482.1 863.0,484.2 863.6,487.3 864.2,489.6 864.8,491.8 865.5,494.4 866.1,497.1 866.7,499.8 867.3,502.0 867.9,505.2 868.5,507.3 869.0,509.9 869.4,511.7 869.9,513.9 870.4,517.0 870.8,519.1 871.3,521.3 871.9,523.2 872.4,525.7 873.0,528.3 873.5,530.9 874.1,533.6 874.7,536.0 875.2,538.0 875.8,540.6 876.3,543.3 876.9,545.1 877.6,548.2 878.2,550.4 878.9,553.0 879.6,554.9 880.2,557.5 880.9,559.9 881.5,561.7 882.2,563.4 882.9,566.4 883.5,568.4 884.2,570.0 884.9,572.2 885.7,575.5 886.5,577.6 887.3,579.5 888.1,582.1 888.9,584.3 889.7,587.4 890.4,589.1 891.2,592.2 892.0,594.4 893.0,596.3 894.0,599.4 895.0,601.7 896.0,604.6 896.9,606.9 897.9,608.5 898.9,610.4 899.8,613.5 901.2,615.2 902.6,618.0 904.0,620.0 905.4,622.3 906.9,624.2 908.3,625.9 909.8,627.5 911.2,629.0 912.7,631.5 914.3,632.9 916.0,634.7 917.7,636.8 919.3,637.7 921.0,640.0 922.8,640.8 924.7,643.1 926.6,644.7 928.5,645.7 930.3,647.5 932.3,649.6 934.4,650.8 936.4,652.3 938.4,653.6 940.4,655.0 942.6,657.0 944.7,658.7 946.9,660.2 949.0,662.0 951.2,663.4 953.2,665.6 955.2,667.0 957.2,668.1 959.2,669.6 961.2,671.5 963.5,673.1 965.8,675.3 968.1,676.4 970.4,678.1 972.4,680.1 974.4,680.8 976.4,682.7 978.4,683.9 980.4,685.8 982.5,687.0 984.6,688.7 986.8,689.6 988.9,691.6 991.0,693.0 993.3,694.4 995.5,696.3 997.8,697.9 1000.0,698.7 1002.3,700.4 1004.7,702.1 1007.0,703.5 1009.4,704.9 1011.7,706.8 1014.1,708.3 1016.6,710.1 1019.1,711.2 1021.5,712.1 1024.0,713.6 1026.5,715.1 1029.1,716.0 1031.7,716.8 1034.3,717.7 1036.9,718.6 1039.5,720.6 1041.8,721.2 1044.1,721.4 1046.4,722.9 1048.8,724.0 1051.1,724.4 1053.4,724.7 1055.8,726.0 1058.3,726.8 1060.8,727.4 1063.2,728.6 1065.7,728.9 1068.1,730.7 1070.8,731.2 1073.5,731.9 1076.2,733.0 1078.9,733.5 1081.6,733.9 1084.1,734.4 1086.5,734.9 1089.0,735.3 1091.4,736.6 1093.9,737.2 1096.4,737.0 1098.9,737.2 1101.4,738.0 1103.9,738.5 1106.4,738.9 1108.9,738.4 1111.4,739.4 1113.9,739.7 1116.4,739.8 1119.0,739.6 1121.5,739.6 1124.0,740.5 1126.5,740.2 1129.1,740.4 1131.6,740.8 1134.1,740.8 1136.6,741.5 1139.2,741.1 1141.7,741.1 1144.2,741.9 1146.7,742.2 1149.2,742.6 1151.7,742.7 1154.2,743.2 1156.7,743.4 1159.2,743.2 1161.7,743.4 1164.8,743.4 1167.8,744.0 1170.8,744.6 1173.9,744.5 1177.2,745.1 1180.5,744.5 1183.8,744.8 1186.2,744.9 1188.8,743.4 1191.2,742.9 1193.8,743.3 1196.2,743.0 1198.8,743.5 1201.2,743.2 1203.8,744.5 1206.2,744.9 1209.6,745.0 1212.9,744.8 1216.2,744.8 1219.3,745.1 1222.4,744.8 1225.5,744.6 1228.6,744.5 1231.1,744.7 1233.6,745.0 1236.1,745.3 1238.6,745.5 1241.1,744.8 1243.6,745.1 1246.1,745.5 1248.6,745.8 1251.1,745.9 1253.7,745.9 1256.2,746.1 1258.7,746.6 1261.2,746.9 1264.0,747.7 1266.7,747.9 1269.5,748.1 1272.2,748.5 1275.0,748.7 1277.5,748.6 1280.0,749.0 1282.5,748.5 1285.0,749.3 1287.8,749.6 1290.6,749.7 1293.4,750.4 1296.2,751.2 1298.6,751.2 1301.1,751.8 1303.6,751.9 1306.1,752.4 1308.5,753.4 1311.0,753.1 1313.5,753.9 1316.0,754.9 1318.5,755.3 1321.0,755.5 1323.5,756.7 1326.0,757.0 1328.6,757.9 1331.1,758.4 1333.6,759.2 1336.1,759.9 1338.7,760.4 1341.2,760.7 1343.7,761.5 1346.2,762.9 1348.6,763.2 1351.1,763.4 1353.6,764.9 1356.1,764.9 1358.6,765.4 1361.1,766.6 1363.5,766.9 1366.0,767.9 1368.5,768.6 1370.9,768.9 1373.4,770.0 1375.8,770.2 1378.3,771.3 1380.8,772.0 1383.2,772.2 1385.7,773.1 1388.2,773.4 1390.7,774.4 1393.2,775.5 1395.7,775.7 1398.2,776.5 1400.8,777.0 1403.5,776.8 1406.1,778.1 1409.2,778.3 1412.4,778.1 1417.1,779.5 1419.5,779.3" fill="none" stroke="#000000" stroke-width="8.0" stroke-linejoin="round" stroke-linecap="round"/>
<circle cx="279.0" cy="182.0" r="18.4" fill="#000000"/>
<circle cx="361.7" cy="198.6" r="18.4" fill="#000000"/>
<circle cx="439.2" cy="210.0" r="18.4" fill="#000000"/>
<circle cx="518.9" cy="218.8" r="18.4" fill="#000000"/>
<circle cx="598.2" cy="229.2" r="18.4" fill="#000000"/>
<circle cx="677.5" cy="243.9" r="18.4" fill="#000000"/>
<circle cx="757.0" cy="283.3" r="18.4" fill="#000000"/>
<circle cx="837.0" cy="441.1" r="18.4" fill="#000000"/>
<circle cx="916.3" cy="731.3" r="18.4" fill="#000000"/>
<circle cx="996.4" cy="801.1" r="18.4" fill="#000000"/>
<circle cx="1075.5" cy="842.7" r="18.4" fill="#000000"/>
<circle cx="1155.6" cy="854.1" r="18.4" fill="#000000"/>
<circle cx="1234.8" cy="856.1" r="18.4" fill="#000000"/>
<circle cx="1314.7" cy="867.3" r="18.4" fill="#000000"/>
<circle cx="1394.3" cy="892.0" r="18.4" fill="#000000"/>
<polyline transform="scale(1,1.3)" points="279.0,131.5 281.5,133.2 284.1,133.3 286.6,134.2 289.1,133.9 291.7,135.4 294.2,135.1 296.7,135.9 299.2,136.7 301.8,136.8 304.3,138.2 306.8,138.3 309.4,139.0 311.9,140.2 314.4,140.4 317.0,141.7 319.5,141.9 322.0,142.9 324.6,143.1 327.1,144.2 329.6,144.7 332.2,144.4 334.7,145.8 337.2,145.8 339.8,147.0 342.2,147.5 344.8,148.3 347.2,147.9 349.8,148.9 352.2,150.0 354.8,150.9 357.2,151.2 359.8,150.8 362.2,152.2 364.8,152.1 367.2,153.3 369.8,154.3 372.2,153.9 374.8,155.6 377.2,155.9 379.8,155.9 382.2,156.4 384.7,157.3 387.2,158.5 389.6,158.7 392.1,158.6 394.6,159.1 397.0,159.8 399.5,161.3 402.0,161.1 404.4,162.2 406.9,162.4 409.4,163.5 411.8,163.7 414.3,163.9 416.8,165.5 419.2,165.7 421.7,166.4 424.2,167.2 426.7,167.9 429.2,167.2 431.6,168.2 434.1,168.5 436.6,169.6 439.1,170.6 441.6,171.1 444.0,170.6 446.5,171.4 449.0,172.8 451.5,173.2 454.0,173.4 456.4,174.0 458.9,174.2 461.4,175.7 463.9,175.6 466.4,176.8 468.9,177.0 471.4,176.8 473.9,177.6 476.4,178.0 478.9,179.5 481.3,179.6 483.8,179.4 486.3,180.1 488.8,180.9 491.3,181.6 493.8,182.3 496.3,182.6 498.8,183.1 501.3,183.1 503.8,184.5 506.2,184.7 508.7,184.8 511.2,185.9 513.7,187.2 516.2,186.4 518.7,187.1 521.2,188.3 523.7,188.3 526.2,188.8 528.7,189.7 531.2,189.9 533.6,190.9 536.1,191.3 538.6,192.5 541.1,193.0 543.6,192.2 546.1,193.5 548.6,194.3 551.1,195.0 553.6,195.4 556.1,195.7 558.5,196.2 561.0,196.4 563.5,196.8 566.0,198.0 568.5,198.7 571.0,199.3 573.5,199.4 576.0,199.5 578.5,200.6 581.0,201.1 583.4,201.3 585.9,201.9 588.4,202.0 590.9,202.8 593.4,203.1 595.9,203.1 598.3,204.0 600.8,204.5 603.3,205.9 605.8,205.7 608.3,206.0 610.8,206.3 613.3,206.8 615.7,207.5 618.2,207.7 620.7,208.0 623.2,209.6 625.7,209.5 628.1,210.0 630.6,210.6 633.1,210.7 635.6,211.0 638.0,211.3 640.5,212.1 643.0,212.5 645.5,213.6 648.0,213.8 650.4,214.8 652.9,214.4 655.4,215.7 657.9,215.7 660.4,215.5 662.8,216.0 665.3,217.0 667.8,218.0 670.3,217.6 672.8,218.6 675.3,218.6 677.7,219.6 680.2,218.9 682.7,220.0 685.2,221.0 687.7,220.6 690.2,221.0 692.6,221.1 695.1,221.7 697.6,222.3 700.1,223.3 702.6,223.1 705.1,223.7 707.5,223.9 710.0,224.8 712.5,225.6 715.0,225.7 717.5,225.5 720.0,226.7 722.5,227.4 725.0,227.3 727.4,227.0 729.9,228.4 732.4,228.9 734.9,228.6 737.4,228.7 739.9,229.2 742.4,230.1 744.9,230.9 747.4,231.0 749.8,231.8 752.3,231.2 754.8,231.7 757.3,232.7 759.8,232.9 762.3,233.0 764.8,233.8 767.3,233.7 769.8,233.7 772.2,234.6 774.7,234.4 777.2,235.6 779.7,235.6 782.2,236.2 784.7,236.7 787.2,236.6 789.7,237.2 792.2,237.0 794.7,238.6 797.1,238.5 799.6,239.4 802.1,238.5 804.6,239.6 807.1,240.2 809.6,240.0 812.1,240.0 814.6,240.5 817.1,240.8 819.6,242.0 822.0,241.5 824.5,242.8 827.0,242.6 829.5,243.1 832.0,243.6 834.5,243.9 836.9,244.4 839.4,244.7 841.9,244.6 844.4,245.6 846.9,245.3 849.4,246.2 851.8,246.7 854.3,247.0 856.8,246.8 859.3,247.7 861.8,248.4 864.2,248.0 866.7,248.1 869.2,248.8 871.6,249.7 874.1,248.9 876.6,249.1 879.1,250.1 881.6,250.7 884.0,251.2 886.5,251.0 889.0,252.2 891.5,251.5 893.9,252.6 896.4,252.0 898.9,252.3 901.4,252.8 903.9,253.0 906.4,254.0 908.8,254.4 911.3,254.2 913.8,255.6 916.3,255.2 918.8,255.2 921.3,255.6 923.8,256.8 926.2,257.4 928.7,256.7 931.2,256.8 933.7,258.2 936.2,257.8 938.7,259.2 941.2,258.9 943.7,259.4 946.2,259.4 948.7,260.3 951.2,260.2 953.7,260.4 956.2,261.5 958.7,260.8 961.2,262.0 963.7,261.4 966.2,262.6 968.7,262.6 971.2,263.6 973.7,262.8 976.2,263.8 978.7,263.9 981.2,265.0 983.7,265.3 986.2,265.2 988.7,265.0 991.2,265.4 993.6,265.7 996.1,266.3 998.6,266.3 1001.1,266.6 1003.6,267.7 1006.1,267.8 1008.6,267.7 1011.1,269.0 1013.6,268.2 1016.1,269.0 1018.6,268.8 1021.0,270.0 1023.5,270.4 1026.0,269.8 1028.5,270.8 1031.0,271.2 1033.5,270.7 1036.0,271.1 1038.4,271.6 1040.9,272.5 1043.4,271.8 1045.9,272.8 1048.4,273.0 1050.9,273.1 1053.3,273.6 1055.8,274.3 1058.3,273.6 1060.8,274.8 1063.3,274.3 1065.8,275.2 1068.3,275.6 1070.8,274.9 1073.3,276.1 1075.8,276.5 1078.2,275.8 1080.7,275.7 1083.2,276.1 1085.7,277.6 1088.2,276.5 1090.7,278.0 1093.2,277.2 1095.7,278.3 1098.2,277.6 1100.7,277.9 1103.2,278.9 1105.7,278.3 1108.2,278.8 1110.7,279.9 1113.2,279.8 1115.7,280.3 1118.1,280.6 1120.6,279.5 1123.1,280.0 1125.6,281.0 1128.1,281.1 1130.6,280.4 1133.1,281.3 1135.6,281.1 1138.1,281.6 1140.6,281.4 1143.1,281.5 1145.6,283.0 1148.1,282.3 1150.5,283.3 1153.0,282.5 1155.5,283.2 1158.0,282.9 1160.5,283.5 1163.0,283.4 1165.5,284.3 1167.9,283.8 1170.4,284.8 1172.9,284.7 1175.4,284.4 1178.0,284.9 1180.7,285.3 1183.3,286.1 1186.0,285.5 1188.6,285.6 1191.2,286.8 1193.9,286.9 1196.5,286.9 1199.2,286.5 1201.8,286.6 1204.4,286.9 1207.1,286.9 1209.7,287.0 1212.4,287.9 1215.0,288.0 1217.5,288.4 1220.0,288.4 1222.5,288.2 1225.0,289.4 1227.5,289.6 1230.0,289.7 1232.5,290.0 1235.0,290.4 1237.5,291.1 1240.0,291.2 1242.4,291.3 1244.9,291.1 1247.4,291.2 1249.9,291.6 1252.4,292.7 1254.9,292.1 1257.4,292.4 1260.0,292.8 1262.5,292.7 1265.0,294.2 1267.5,293.2 1270.0,294.4 1272.5,295.1 1275.0,294.5 1277.6,295.3 1280.1,295.3 1282.6,295.5 1285.1,295.7 1287.6,295.9 1290.1,297.3 1292.7,297.5 1295.2,298.0 1297.7,297.2 1300.2,298.5 1302.7,298.4 1305.2,299.2 1307.7,299.5 1310.2,299.5 1312.7,300.8 1315.2,299.9 1317.7,301.3 1320.2,301.9 1322.7,301.8 1325.2,302.3 1327.7,303.2 1330.2,302.6 1332.7,303.5 1335.2,304.1 1337.7,304.0 1340.2,305.0 1342.7,305.0 1345.1,305.6 1347.6,306.2 1350.1,306.8 1352.6,306.7 1355.1,307.6 1357.6,308.0 1360.1,308.0 1362.6,309.0 1365.1,309.0 1367.5,310.4 1370.0,310.2 1372.5,311.0 1375.0,311.2 1377.5,311.7 1380.0,311.8 1382.5,312.2 1385.1,313.8 1387.6,313.8 1390.1,314.3 1392.6,314.8 1395.1,315.7 1397.6,315.4 1400.2,315.8 1402.7,317.2 1405.3,317.3 1407.9,318.2 1410.5,319.1 1413.0,319.8 1415.6,320.4 1418.2,319.8 1420.8,320.9 1423.4,322.2 1426.0,322.7" fill="none" stroke="#000000" stroke-width="7.6" stroke-linejoin="round" stroke-linecap="round"/>
<polygon points="279.0,146.0 256.8,184.4 301.2,184.4" fill="#000000"/>
<polygon points="360.0,171.4 337.8,209.8 382.2,209.8" fill="#000000"/>
<polygon points="439.0,195.8 416.8,234.2 461.2,234.2" fill="#000000"/>
<polygon points="518.7,218.3 496.5,256.7 540.9,256.7" fill="#000000"/>
<polygon points="598.4,240.2 576.2,278.6 620.6,278.6" fill="#000000"/>
<polygon points="677.7,259.5 655.5,297.9 699.9,297.9" fill="#000000"/>
<polygon points="757.3,276.7 735.1,315.1 779.5,315.1" fill="#000000"/>
<polygon points="837.0,291.9 814.8,330.3 859.2,330.3" fill="#000000"/>
<polygon points="916.2,306.4 894.0,344.8 938.4,344.8" fill="#000000"/>
<polygon points="996.2,320.9 974.0,359.3 1018.4,359.3" fill="#000000"/>
<polygon points="1075.7,333.4 1053.5,371.8 1097.9,371.8" fill="#000000"/>
<polygon points="1155.6,342.7 1133.4,381.1 1177.8,381.1" fill="#000000"/>
<polygon points="1234.8,351.0 1212.6,389.4 1257.0,389.4" fill="#000000"/>
<polygon points="1315.3,364.4 1293.1,402.8 1337.5,402.8" fill="#000000"/>
<polygon points="1394.9,383.8 1372.7,422.2 1417.1,422.2" fill="#000000"/>
</g>
<line x1="515" y1="157.7" x2="719.8" y2="157.7" stroke="#000000" stroke-width="6.8" stroke-linecap="round"/>
<polygon points="517,145.0 480,158.2 517,171.5" fill="#000000" stroke="#000000" stroke-width="6.6" stroke-linejoin="round"/>
<line x1="304.5" y1="469.6" x2="457" y2="469.6" stroke="#000000" stroke-width="7.2" stroke-linecap="round"/>
<rect x="363.4" y="453.0" width="33.3" height="33.3" fill="#000000"/>
<text x="472.8" y="492.2" font-size="68.5" class="t">HNT-GM</text>
<line x1="304.5" y1="553.8" x2="457" y2="553.8" stroke="#000000" stroke-width="7.2" stroke-linecap="round"/>
<circle cx="380.6" cy="553.8" r="18.4" fill="#000000"/>
<text x="472.8" y="576.4" font-size="68.5" class="t">HNT-ImM</text>
<line x1="304.5" y1="637.8" x2="457" y2="637.8" stroke="#000000" stroke-width="7.2" stroke-linecap="round"/>
<polygon points="380.5,612.1 358.2,650.7 402.8,650.7" fill="#000000"/>
<text x="472.8" y="660.4" font-size="68.5" class="t">HNT-BM</text>
<g stroke="#000000" stroke-width="3.6" fill="none" stroke-linecap="butt">
<line x1="259" y1="1036.1" x2="1427.8" y2="1036.1" stroke-width="3.4"/>
<line x1="259" y1="64.6" x2="1424.3" y2="64.6" stroke-width="4.2"/>
<line x1="279.6" y1="62.599999999999994" x2="279.6" y2="1056.7" stroke-width="3.0"/>
<line x1="661.7" y1="1036.1" x2="661.7" y2="1056.5"/>
<line x1="1043.7" y1="1036.1" x2="1043.7" y2="1056.5"/>
<line x1="1425.7" y1="1036.1" x2="1425.7" y2="1056.5"/>
<line x1="470.7" y1="1036.1" x2="470.7" y2="1047"/>
<line x1="852.7" y1="1036.1" x2="852.7" y2="1047"/>
<line x1="1234.7" y1="1036.1" x2="1234.7" y2="1047"/>
<line x1="661.7" y1="64.6" x2="661.7" y2="85"/>
<line x1="1043.7" y1="64.6" x2="1043.7" y2="85"/>
<line x1="470.7" y1="64.6" x2="470.7" y2="76.5"/>
<line x1="852.7" y1="64.6" x2="852.7" y2="76.5"/>
<line x1="1234.7" y1="64.6" x2="1234.7" y2="76.5"/>
<line x1="259" y1="712.3" x2="279.6" y2="712.3"/>
<line x1="259" y1="388.4" x2="279.6" y2="388.4"/>
<line x1="268.7" y1="874.2" x2="279.6" y2="874.2"/>
<line x1="268.7" y1="550.3" x2="279.6" y2="550.3"/>
<line x1="268.7" y1="226.5" x2="279.6" y2="226.5"/>
</g>
<g stroke="#0000ff" stroke-width="3.6" fill="none">
<line x1="1426.0" y1="62.6" x2="1426.0" y2="1036.1"/>
<line x1="1426.0" y1="1036.1" x2="1447" y2="1036.1"/>
<line x1="1426.0" y1="689.1" x2="1447" y2="689.1"/>
<line x1="1426.0" y1="342.2" x2="1447" y2="342.2"/>
<line x1="1426.0" y1="862.6" x2="1437.5" y2="862.6"/>
<line x1="1426.0" y1="515.7" x2="1437.5" y2="515.7"/>
<line x1="1426.0" y1="168.7" x2="1437.5" y2="168.7"/>
</g>
<line x1="1425.7" y1="1037.9" x2="1425.7" y2="1056.5" stroke="#000000" stroke-width="3.6"/>
<text transform="translate(246,1057.9) scale(1,1.022)" font-size="77.2" text-anchor="end" class="t">92</text>
<text transform="translate(246,734.1) scale(1,1.022)" font-size="77.2" text-anchor="end" class="t">94</text>
<text transform="translate(246,410.2) scale(1,1.022)" font-size="77.2" text-anchor="end" class="t">96</text>
<text transform="translate(246,86.4) scale(1,1.022)" font-size="77.2" text-anchor="end" class="t">98</text>
<text transform="translate(279.3,1129.6) scale(1,1.022)" font-size="77.2" text-anchor="middle" class="t">200</text>
<text transform="translate(661.3,1129.6) scale(1,1.022)" font-size="77.2" text-anchor="middle" class="t">400</text>
<text transform="translate(1043.3,1129.6) scale(1,1.022)" font-size="77.2" text-anchor="middle" class="t">600</text>
<text transform="translate(1425.3,1129.6) scale(1,1.022)" font-size="77.2" text-anchor="middle" class="t">800</text>
<text transform="translate(1458.0,1056.7) scale(1,1.022)" font-size="77.2" fill="#0000ff" class="t">0.00</text>
<text transform="translate(1458.0,709.7) scale(1,1.022)" font-size="77.2" fill="#0000ff" class="t">0.05</text>
<text transform="translate(1458.0,362.8) scale(1,1.022)" font-size="77.2" fill="#0000ff" class="t">0.10</text>
<text transform="translate(518.7,1245.4) scale(1,0.979)" font-size="94.7" class="t">Temperature (°C)</text>
<text transform="translate(93.4,832.4) rotate(-90)" font-size="94.2" class="t">Weight (%)</text>
<text transform="translate(1653.5,194.5) rotate(90)" font-size="94.9" fill="#0000ff" class="t">Deriv. Weight (%/°C)</text>
<rect x="0" y="1260" width="1756" height="36" fill="#ffffff"/>
<rect x="1740" y="0" width="16" height="1296" fill="#ffffff"/>
</svg>
</body></html>
